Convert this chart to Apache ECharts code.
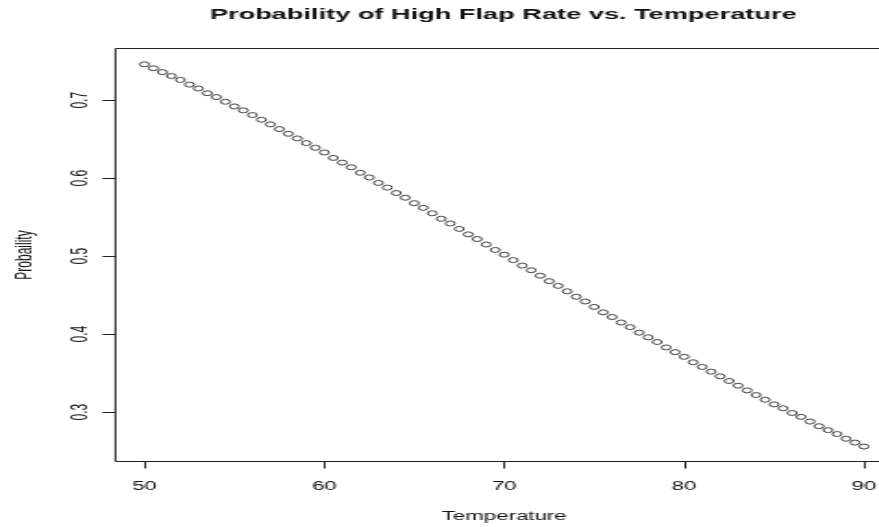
<!DOCTYPE html>
<html>
<head>
<meta charset="utf-8">
<script src="https://cdn.jsdelivr.net/npm/echarts@6/dist/echarts.min.js"></script>
<style>
  html, body { margin: 0; padding: 0; background: #ffffff; overflow: hidden; }
  /* the reference is an R plot stretched sideways, so the chart is drawn narrow and scaled */
  #chart { width: 475px; height: 527px; transform: scaleX(1.85); transform-origin: 0 0; }
</style>
</head>
<body>
<div id="chart"></div>
<script>
const temperatures = [
  50, 50.5, 51, 51.5, 52, 52.5, 53, 53.5, 54, 54.5,
  55, 55.5, 56, 56.5, 57, 57.5, 58, 58.5, 59, 59.5,
  60, 60.5, 61, 61.5, 62, 62.5, 63, 63.5, 64, 64.5,
  65, 65.5, 66, 66.5, 67, 67.5, 68, 68.5, 69, 69.5,
  70, 70.5, 71, 71.5, 72, 72.5, 73, 73.5, 74, 74.5,
  75, 75.5, 76, 76.5, 77, 77.5, 78, 78.5, 79, 79.5,
  80, 80.5, 81, 81.5, 82, 82.5, 83, 83.5, 84, 84.5,
  85, 85.5, 86, 86.5, 87, 87.5, 88, 88.5, 89, 89.5,
  90
]
const probabilities = [
  0.746, 0.741, 0.736, 0.731, 0.726, 0.720, 0.715, 0.709, 0.704, 0.698,
  0.692, 0.687, 0.681, 0.675, 0.669, 0.663, 0.657, 0.651, 0.645, 0.639,
  0.633, 0.626, 0.620, 0.614, 0.607, 0.601, 0.594, 0.588, 0.581, 0.575,
  0.568, 0.562, 0.555, 0.548, 0.542, 0.535, 0.528, 0.522, 0.515, 0.508,
  0.502, 0.495, 0.488, 0.482, 0.475, 0.468, 0.462, 0.455, 0.448, 0.442,
  0.435, 0.428, 0.422, 0.415, 0.409, 0.402, 0.396, 0.390, 0.383, 0.377,
  0.371, 0.364, 0.358, 0.352, 0.346, 0.340, 0.334, 0.328, 0.322, 0.316,
  0.310, 0.305, 0.299, 0.294, 0.288, 0.282, 0.277, 0.272, 0.266, 0.261,
  0.256
]
const xTicks = [50, 60, 70, 80, 90]
const yTicks = [0.3, 0.4, 0.5, 0.6, 0.7]

const font = 'Liberation Sans, Arial, sans-serif'
const ink = '#111111'

const chart = echarts.init(document.getElementById('chart'))

const option = {
  animation: false,
  backgroundColor: '#ffffff',
  title: {
    text: 'Probability of High Flap Rate vs. Temperature',
    left: 272,
    top: 7,
    padding: 0,
    textAlign: 'center',
    textStyle: {
      fontFamily: font,
      fontWeight: 'bold',
      fontSize: 14.7,
      color: ink
    }
  },
  grid: {
    left: 62.4,
    top: 48.5,
    width: 420.3,
    height: 413,
    show: true,
    borderColor: '#222222',
    borderWidth: 1,
    backgroundColor: 'transparent',
    outerBoundsMode: 'none'
  },
  xAxis: {
    type: 'value',
    min: 48.39,
    max: 91.61,
    name: 'Temperature',
    nameLocation: 'middle',
    nameGap: 49,
    nameTextStyle: { fontFamily: font, fontSize: 12, color: ink },
    axisLine: { show: false },
    splitLine: { show: false },
    axisTick: {
      show: true,
      length: 7,
      customValues: xTicks,
      lineStyle: { color: '#222222', width: 1 }
    },
    axisLabel: {
      customValues: xTicks,
      margin: 19,
      fontFamily: font,
      fontSize: 12,
      color: ink
    }
  },
  yAxis: {
    type: 'value',
    min: 0.2368,
    max: 0.7663,
    name: 'Probaility',
    nameLocation: 'middle',
    nameGap: 43,
    nameTextStyle: { fontFamily: font, fontSize: 12, color: ink },
    axisLine: { show: false },
    splitLine: { show: false },
    axisTick: {
      show: true,
      length: 7,
      customValues: yTicks,
      lineStyle: { color: '#222222', width: 1 }
    },
    axisLabel: {
      customValues: yTicks,
      rotate: 90,
      margin: 13,
      fontFamily: font,
      fontSize: 12,
      color: ink,
      formatter: v => v.toFixed(1)
    }
  },
  series: [{
    type: 'scatter',
    data: temperatures.map((t, i) => [t, probabilities[i]]),
    symbol: 'circle',
    symbolSize: 5,
    itemStyle: {
      color: 'transparent',
      borderColor: '#1a1a1a',
      borderWidth: 1
    }
  }]
}

chart.setOption(option)
</script>
</body>
</html>
